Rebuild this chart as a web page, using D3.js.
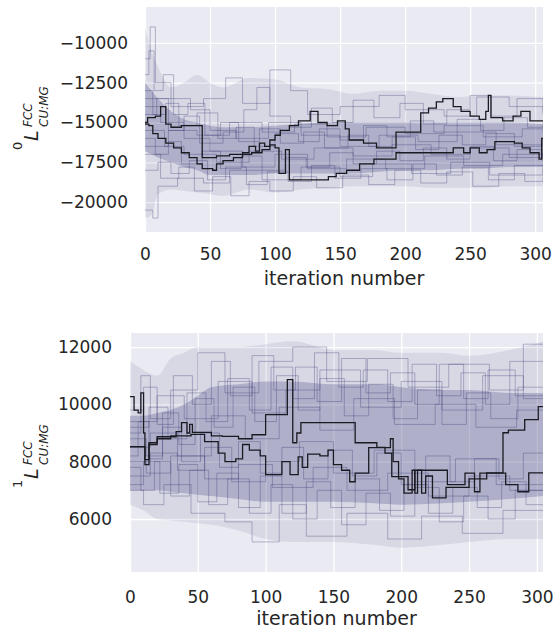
<!DOCTYPE html>
<html>
<head>
<meta charset="utf-8">
<script src="https://cdn.jsdelivr.net/npm/d3@7"></script>
<style>
  body { margin: 0; background: #fff; }
  text { font-family: "DejaVu Sans", sans-serif; fill: #262626; }
</style>
</head>
<body>
<div id="chart"></div>
<script>
// x ticks shared by both panels
const xTicks = [0, 50, 100, 150, 200, 250, 300];

// ---- top panel: 0L FCC CU:MG ----
const topTicks = [-20000, -17500, -15000, -12500, -10000];
// walker cloud envelope
const topIters = [0, 5, 10, 20, 30, 40, 50, 60, 80, 100, 120, 140, 160, 180, 200, 220, 240, 260, 280, 306];
const topOuterHi = [-9000, -10500, -11500, -12800, -12500, -12000, -12500, -12800, -12200, -12300, -12800, -12900, -13200, -13000, -13000, -13200, -13400, -13300, -13300, -13400];
const topCoreHi = [-12500, -13000, -13500, -14300, -14800, -15000, -15200, -15300, -15300, -15200, -15100, -15000, -15000, -15000, -15000, -15000, -15000, -15000, -15000, -15100];
const topCoreLo = [-16800, -17000, -17200, -17500, -17800, -18000, -18300, -18300, -18300, -18200, -18200, -18200, -18200, -18100, -18000, -18000, -17900, -17900, -17800, -17800];
const topOuterLo = [-21000, -20800, -19500, -19200, -19300, -19400, -19500, -19600, -19200, -19400, -19200, -19100, -19000, -19000, -19000, -19100, -19100, -19100, -19000, -19000];
const topFaint = [
  [[0,-11000],[4,-9000],[8,-12500],[20,-13500],[35,-14200],[50,-15500],[70,-16000],[95,-15000],[120,-15800],[150,-16500],[180,-15800],[210,-16200],[240,-15600],[270,-16400],[306,-16000]],
  [[0,-20500],[6,-21000],[10,-19000],[25,-18500],[45,-18800],[65,-18000],[90,-18600],[120,-17800],[150,-18400],[175,-17600],[205,-18200],[235,-17500],[265,-18300],[306,-17900]],
  [[0,-13500],[20,-14000],[45,-13500],[62,-12200],[75,-13800],[96,-11700],[112,-13000],[125,-14500],[150,-14000],[180,-13300],[200,-14200],[230,-14600],[255,-13400],[280,-14000],[306,-14500]],
  [[0,-15500],[15,-16500],[30,-17000],[55,-17500],[80,-16800],[105,-17300],[130,-16600],[160,-17100],[190,-16400],[220,-17000],[250,-16600],[280,-17200],[306,-16800]],
  [[0,-14000],[12,-15000],[30,-16000],[50,-16800],[75,-17800],[100,-17000],[125,-17900],[155,-17300],[185,-17900],[215,-17100],[245,-17700],[275,-17000],[306,-17500]],
  [[0,-16500],[18,-15500],[40,-15800],[65,-15000],[90,-15600],[115,-15100],[140,-15900],[170,-15300],[200,-15700],[230,-15200],[260,-15900],[290,-15400],[306,-15600]],
  [[0,-12000],[3,-10500],[7,-13000],[14,-12000],[22,-14500],[33,-13800],[46,-15800],[58,-15000],[72,-16200],[88,-15400],[104,-16300],[122,-15600],[138,-16600],[156,-15800],[172,-16500],[190,-15900],[208,-16700],[226,-15800],[244,-16400],[262,-15700],[284,-16500],[306,-16100]],
  [[0,-18000],[10,-17500],[20,-18200],[34,-17400],[48,-18600],[62,-17800],[78,-18900],[94,-18100],[110,-18700],[128,-17700],[146,-18500],[166,-17900],[186,-18600],[206,-17600],[224,-18300],[244,-17800],[264,-18600],[284,-17700],[306,-18200]],
  [[0,-13000],[6,-14500],[16,-13800],[26,-15200],[40,-14400],[56,-16000],[70,-15300],[84,-16500],[100,-15700],[118,-16200],[134,-15400],[150,-16100],[168,-15200],[186,-15900],[204,-14900],[222,-15600],[240,-14800],[258,-15500],[276,-14700],[294,-15300],[306,-15000]],
  [[0,-16000],[8,-17000],[18,-16200],[28,-17600],[44,-16800],[58,-17900],[74,-17100],[90,-18000],[108,-17200],[124,-17800],[142,-16900],[160,-17600],[178,-16800],[196,-17400],[214,-16600],[232,-17300],[250,-16500],[268,-17400],[286,-16700],[306,-17100]],
  [[0,-14500],[9,-13500],[18,-15500],[30,-14600],[42,-16300],[60,-15600],[76,-14200],[86,-12800],[96,-14600],[112,-15300],[128,-14100],[144,-15000],[160,-13600],[176,-14700],[196,-13800],[214,-15100],[232,-14200],[250,-13300],[266,-14600],[286,-13500],[306,-14300]],
  [[0,-17000],[12,-18500],[26,-17800],[38,-19300],[52,-18400],[66,-19600],[80,-18700],[96,-19300],[114,-18400],[132,-19100],[152,-18300],[172,-18900],[192,-18000],[212,-18800],[232,-18100],[252,-19000],[272,-18200],[292,-18700],[306,-18400]]
];
// two highlighted walkers
const topBlackA = [[0,-15000],[2,-14700],[8,-14600],[12,-14000],[16,-15100],[20,-15300],[28,-15200],[44,-17200],[55,-17100],[65,-17000],[75,-16900],[80,-16500],[85,-16800],[88,-16300],[92,-16500],[96,-16100],[100,-15800],[104,-15500],[111,-15200],[118,-14900],[127,-14300],[133,-15000],[140,-15200],[148,-14900],[154,-15400],[157,-16100],[168,-16300],[178,-16600],[193,-15600],[212,-14400],[218,-14100],[224,-13700],[229,-13500],[237,-14000],[243,-14300],[250,-14600],[257,-14800],[262,-14300],[264,-13300],[266,-14700],[275,-14900],[283,-14600],[289,-14300],[296,-14900],[306,-14900]];
const topBlackB = [[0,-15100],[3,-15200],[6,-15700],[10,-16000],[16,-16300],[22,-16600],[28,-16900],[34,-17200],[40,-17600],[44,-17900],[52,-18000],[55,-17600],[60,-17400],[68,-17200],[75,-17000],[82,-16900],[90,-16700],[96,-16400],[100,-16600],[103,-18200],[108,-16700],[111,-18600],[141,-18400],[147,-18200],[155,-18000],[165,-17600],[176,-17300],[193,-16900],[232,-16900],[237,-16600],[245,-16900],[250,-16600],[257,-16900],[263,-16700],[269,-16200],[284,-16300],[290,-16600],[296,-16900],[303,-17300],[305,-16000],[306,-16000]];

// ---- bottom panel: 1L FCC CU:MG ----
const botTicks = [6000, 8000, 10000, 12000];
const botIters = [0, 10, 20, 30, 40, 50, 60, 80, 100, 120, 150, 180, 200, 230, 250, 280, 305];
const botOuterHi = [11500, 11200, 11000, 11600, 11800, 12000, 12000, 12000, 12100, 12200, 11900, 11900, 11800, 11800, 11700, 11900, 12200];
const botCoreHi = [9600, 9600, 9700, 9800, 10000, 10300, 10600, 10700, 10800, 10800, 10700, 10700, 10600, 10500, 10500, 10400, 10400];
const botCoreLo = [7000, 7000, 7000, 6950, 6900, 6850, 6800, 6700, 6600, 6600, 6600, 6550, 6500, 6550, 6600, 6700, 6800];
const botOuterLo = [6500, 6300, 6000, 5950, 5900, 5850, 5800, 5600, 5300, 5200, 5200, 5100, 5000, 5100, 5200, 5300, 5300];
const botFaint = [
  [[0,9000],[8,11000],[15,9500],[30,10500],[50,11800],[70,10400],[95,11500],[120,12000],[145,10800],[175,11600],[205,10600],[235,11400],[265,10500],[290,12100],[305,11000]],
  [[0,7000],[10,6500],[25,7200],[45,6200],[70,5900],[90,5200],[110,6500],[130,5400],[160,6200],[190,5300],[215,6100],[245,5500],[275,6300],[305,5800]],
  [[0,8500],[15,9000],[35,8200],[60,9600],[85,8800],[110,9900],[140,9100],[165,10200],[195,9300],[225,10000],[255,9200],[285,9800],[305,9400]],
  [[0,8000],[12,7600],[30,8200],[55,7400],[80,7900],[105,7100],[135,7800],[160,7000],[190,7600],[220,6800],[250,7500],[280,7000],[305,7400]],
  [[0,9400],[20,10300],[40,9500],[65,10800],[90,9700],[115,10500],[140,11200],[170,9900],[200,10800],[230,9800],[260,11000],[290,10200],[305,10600]],
  [[0,7500],[15,8300],[35,7700],[55,8500],[75,7300],[100,8000],[125,8700],[150,7600],[180,8400],[210,7300],[240,8100],[270,7200],[305,7900]],
  [[0,8200],[6,9400],[14,8100],[24,9700],[36,8600],[48,10200],[62,9200],[76,10600],[92,9400],[108,11000],[124,9800],[140,10900],[158,9600],[176,10700],[194,9500],[212,10500],[230,9300],[248,10400],[266,9500],[286,10600],[305,9700]],
  [[0,7800],[8,7000],[18,8000],[30,6800],[44,7700],[58,6500],[72,7400],[88,6200],[104,7200],[120,6000],[138,7000],[156,5800],[174,6900],[192,6100],[210,7100],[228,5900],[246,6800],[264,6000],[284,7000],[305,6300]],
  [[0,9800],[10,10600],[20,9300],[32,11000],[46,10000],[60,11500],[74,10300],[90,11700],[106,10500],[122,11300],[138,10100],[156,11600],[174,10400],[192,11100],[210,10000],[228,11400],[246,10200],[264,11200],[284,10300],[305,11000]],
  [[0,8800],[12,8200],[24,9200],[38,8000],[52,9000],[66,7800],[80,8700],[96,7600],[112,8500],[128,7400],[146,8400],[164,7500],[182,8300],[200,7200],[218,8200],[236,7300],[254,8100],[272,7400],[290,8300],[305,7800]],
  [[0,7200],[10,8000],[22,6900],[36,7900],[50,6600],[64,7600],[80,6400],[96,7500],[112,6200],[130,7300],[148,6400],[166,7400],[184,6300],[202,7200],[220,6200],[238,7100],[256,6400],[274,7300],[292,6500],[305,7000]],
  [[0,9200],[14,9900],[28,8800],[42,10400],[56,9400],[72,10900],[88,9800],[104,11300],[120,10200],[136,11800],[154,10600],[172,11200],[190,10100],[208,11400],[226,10300],[244,11100],[262,10000],[280,11500],[305,10500]]
];
const botBlackA = [[0,10270],[3,9800],[6,9700],[8,10400],[10,9000],[11,8070],[14,8660],[20,8870],[34,9050],[38,9360],[42,9000],[44,9300],[46,9020],[60,8900],[68,8880],[80,8800],[90,8940],[100,9640],[116,10860],[120,8660],[123,9000],[126,9360],[166,9360],[166,8660],[182,8500],[188,8300],[193,7480],[205,7020],[210,7700],[215,6900],[218,7500],[223,6740],[233,6740],[233,7100],[245,7100],[250,7400],[263,7610],[275,9010],[279,9100],[288,9100],[291,9470],[301,9920],[305,8800]];
const botBlackB = [[0,8520],[9,8520],[11,7900],[14,8600],[20,8800],[30,8900],[45,8950],[55,8700],[65,8300],[70,8000],[78,8100],[83,8600],[88,8400],[96,8200],[100,7550],[110,7550],[112,8000],[116,8000],[118,7550],[124,8170],[127,7800],[131,8260],[140,8200],[146,8400],[150,7900],[156,7700],[162,7300],[166,7600],[176,7600],[176,8490],[190,8490],[192,8800],[194,8000],[198,7400],[202,6900],[208,7700],[210,6900],[212,7700],[232,7700],[234,7200],[245,7200],[247,7600],[252,7600],[254,6950],[258,7600],[275,7600],[277,7200],[285,7200],[286,6950],[292,6950],[294,7610],[305,7610]];

const width = 556, height = 633;
const svg = d3.select("#chart").append("svg").attr("width", width).attr("height", height);

const panels = [
  { left: 145, right: 543, top: 7, bottom: 232, xMax: 306, yDomain: [-21875, -7750], yTicks: topTicks,
    iters: topIters, outerHi: topOuterHi, coreHi: topCoreHi, coreLo: topCoreLo, outerLo: topOuterLo,
    faint: topFaint, black: [topBlackA, topBlackB], xPad: 16, yPad: 17, labelY: 285, labelCy: 120, sup: "0" },
  { left: 130, right: 543, top: 333, bottom: 572, xMax: 304.5, yDomain: [4150, 12490], yTicks: botTicks,
    iters: botIters, outerHi: botOuterHi, coreHi: botCoreHi, coreLo: botCoreLo, outerLo: botOuterLo,
    faint: botFaint, black: [botBlackA, botBlackB], xPad: 19, yPad: 18, labelY: 625, labelCy: 458, sup: "1" }
];

panels.forEach((p, pi) => {
  const x = d3.scaleLinear().domain([0, p.xMax]).range([p.left, p.right]);
  const y = d3.scaleLinear().domain(p.yDomain).range([p.bottom, p.top]);
  const g = svg.append("g");

  g.append("rect").attr("x", p.left).attr("y", p.top)
    .attr("width", p.right - p.left).attr("height", p.bottom - p.top).attr("fill", "#eaeaf2");

  // grid
  g.append("g").attr("transform", `translate(0,${p.bottom})`)
    .call(d3.axisBottom(x).tickValues(xTicks).tickSize(-(p.bottom - p.top)).tickFormat(""))
    .call(a => a.select(".domain").remove())
    .call(a => a.selectAll("line").attr("stroke", "#fff").attr("stroke-width", 1.3));
  g.append("g").attr("transform", `translate(${p.left},0)`)
    .call(d3.axisLeft(y).tickValues(p.yTicks).tickSize(-(p.right - p.left)).tickFormat(""))
    .call(a => a.select(".domain").remove())
    .call(a => a.selectAll("line").attr("stroke", "#fff").attr("stroke-width", 1.3));

  const clipId = "clip" + pi;
  svg.append("clipPath").attr("id", clipId).append("rect")
    .attr("x", p.left).attr("y", p.top).attr("width", p.right - p.left).attr("height", p.bottom - p.top);
  const plot = g.append("g").attr("clip-path", `url(#${clipId})`);

  const band = (hi, lo) => d3.area()
    .x((d, i) => x(p.iters[i]))
    .y0((d, i) => y(lo[i]))
    .y1((d, i) => y(hi[i]))
    .curve(d3.curveMonotoneX)(p.iters);

  plot.append("path").attr("d", band(p.outerHi, p.outerLo)).attr("fill", "rgba(70,70,130,0.11)");
  plot.append("path").attr("d", band(p.coreHi, p.coreLo)).attr("fill", "rgba(70,70,130,0.28)");

  const line = d3.line().x(d => x(d[0])).y(d => y(d[1])).curve(d3.curveStepAfter);
  plot.selectAll(".faint").data(p.faint).join("path").attr("class", "faint")
    .attr("d", line).attr("fill", "none").attr("stroke", "rgba(55,55,115,0.33)").attr("stroke-width", 1);
  plot.selectAll(".black").data(p.black).join("path").attr("class", "black")
    .attr("d", line).attr("fill", "none").attr("stroke", "#1a1a22").attr("stroke-width", 1.3);

  // tick labels
  g.append("g").attr("transform", `translate(0,${p.bottom})`)
    .call(d3.axisBottom(x).tickValues(xTicks).tickSize(0).tickPadding(p.xPad))
    .call(a => a.select(".domain").remove())
    .call(a => a.selectAll("text").style("font-size", "17px").attr("fill", "#262626"));
  g.append("g").attr("transform", `translate(${p.left},0)`)
    .call(d3.axisLeft(y).tickValues(p.yTicks).tickSize(0).tickPadding(p.yPad).tickFormat(d3.format("d")))
    .call(a => a.select(".domain").remove())
    .call(a => a.selectAll("text").style("font-size", "17px").attr("fill", "#262626"));

  g.append("text").attr("x", (p.left + p.right) / 2).attr("y", p.labelY)
    .attr("text-anchor", "middle").style("font-size", "19px").text("iteration number");

  // y label  ^nL^{FCC}_{CU:MG}, rotated
  const lab = g.append("g").attr("transform", `translate(38,${p.labelCy}) rotate(-90)`);
  lab.append("text").attr("x", -30).attr("y", -16).style("font-size", "13px").text(p.sup);
  lab.append("text").attr("x", -21).attr("y", 0).style("font-size", "19px").style("font-style", "italic").text("L");
  lab.append("text").attr("x", -7).attr("y", -6).style("font-size", "12px").style("font-style", "italic").text("FCC");
  lab.append("text").attr("x", -7).attr("y", 10).style("font-size", "12px").style("font-style", "italic").text("CU:MG");
});
</script>
</body>
</html>
